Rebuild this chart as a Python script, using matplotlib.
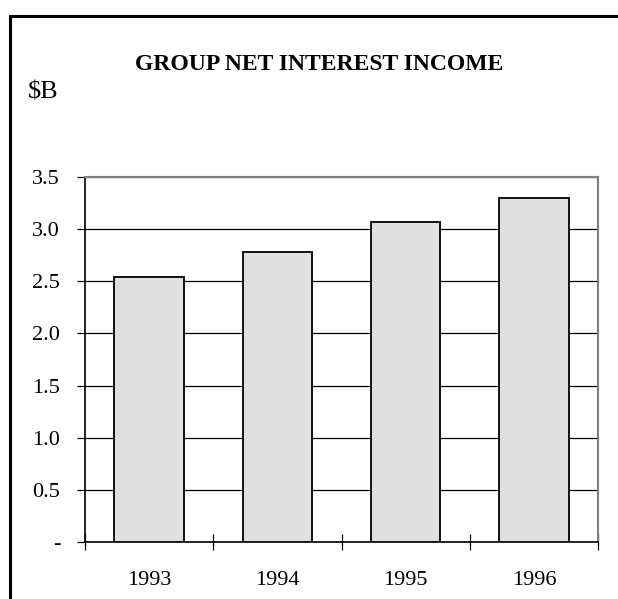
import numpy as np
import matplotlib
matplotlib.use("Agg")
import matplotlib.pyplot as plt
from matplotlib.patches import Rectangle

#--------------------------------
# data
#--------------------------------
years = ["1993", "1994", "1995", "1996"]
income = [2.54, 2.78, 3.07, 3.30]
y_ticks = [0, 0.5, 1.0, 1.5, 2.0, 2.5, 3.0, 3.5]
y_labels = ["-", "0.5", "1.0", "1.5", "2.0", "2.5", "3.0", "3.5"]

plt.rcParams['font.family'] = ['Liberation Serif', 'DejaVu Serif']

fig = plt.figure(figsize=(6.18, 5.99), dpi=100)
ax = fig.add_axes([85/618, 57/599, 513/618, 365/599])

# outer frame, runs off the right and bottom of the picture
frame = Rectangle((10/618, -0.2), 1.5, 1 - 16/599 + 0.2, transform=fig.transFigure,
                  fill=False, edgecolor="black", linewidth=2.2, clip_on=False)
fig.patches.append(frame)

x = np.arange(len(years)) + 0.5
ax.set_axisbelow(True)
ax.bar(x, income, width=0.54, color="#e0e0e0", edgecolor="black", linewidth=1.3, zorder=3)

ax.set_xlim(0, len(years))
ax.set_ylim(0, 3.5)
ax.set_yticks(y_ticks)
ax.set_yticklabels(y_labels)
ax.yaxis.grid(True, color="black", linewidth=0.9)

# ticks at the category boundaries, labels in between
ax.set_xticks(np.arange(len(years) + 1))
ax.set_xticklabels([])
ax.set_xticks(x, minor=True)
ax.set_xticklabels(years, minor=True)
ax.tick_params(axis="x", which="major", direction="inout", length=12, width=0.9, color="black")
ax.tick_params(axis="x", which="minor", length=0, pad=21, labelsize=16)
ax.tick_params(axis="y", direction="out", length=6, width=0.9, pad=12, labelsize=16)

for s in ["left", "bottom"]:
    ax.spines[s].set_color("black")
    ax.spines[s].set_linewidth(1.2)
for s in ["top", "right"]:
    ax.spines[s].set_color("#808080")
    ax.spines[s].set_linewidth(1.5)

fig.text(319/618, 1 - 64/599, "GROUP NET INTEREST INCOME", ha="center", va="center",
         fontsize=17, fontweight="bold")
fig.text(28/618, 1 - 93/599, "$B", ha="left", va="center", fontsize=19)

plt.savefig("out.png", dpi=100)
